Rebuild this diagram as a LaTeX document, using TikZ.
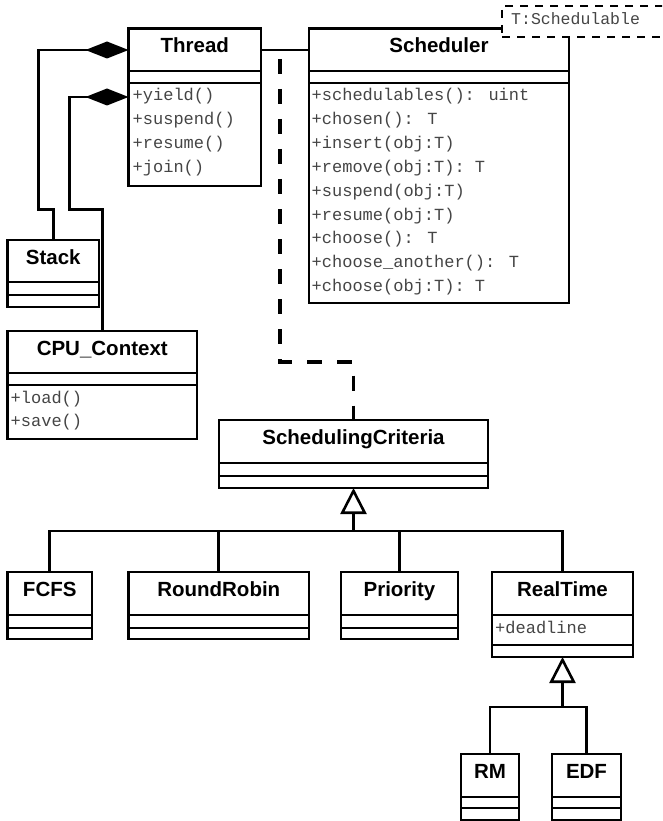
\documentclass[tikz,border=0pt]{standalone}
\usepackage{fontspec}
\setmainfont{Liberation Sans}
\newfontfamily\monof{Liberation Mono}
\usetikzlibrary{arrows.meta}
\definecolor{methgray}{HTML}{454545}
\tikzset{
  clsbox/.style={draw, line width=2.7pt, inner sep=0pt, outer sep=0pt, fill=white},
  sepline/.style={line width=2.7pt},
  clstitle/.style={font=\fontsize{20.5}{21}\selectfont\bfseries, inner sep=0pt, anchor=base},
  meth/.style={font=\monof\fontsize{17}{18}\selectfont, text=methgray, inner sep=0pt, anchor=base west},
  conn/.style={line width=2.6pt},
  dep/.style={line width=3.2pt, dash pattern=on 15pt off 15pt},
  comp/.style={-{Diamond[length=43pt,width=17pt]}},
  gen/.style={-{Triangle[fill=white,length=26pt,width=26pt]}},
  tpbox/.style={draw, line width=2.6pt, dash pattern=on 8pt off 7pt, fill=white, inner sep=0pt, outer sep=0pt}
}
% name, x1, x2, top, line1, line2, bottom, title
\newcommand\umlclass[8]{%
  \node[clsbox, anchor=north west, minimum width={(#3-#2)*1pt}, minimum height={(#7-#4)*1pt}] (#1) at (#2,#4) {};
  \draw[sepline] (#1.west |- {0,#5}) -- (#1.east |- {0,#5});
  \draw[sepline] (#1.west |- {0,#6}) -- (#1.east |- {0,#6});
  \node[clstitle] (#1-t) at ({(#2+#3)/2},{#4+24.5}) {#8};
}
% prefix, x, first baseline, list
\newcommand\umlmethods[4]{%
  \foreach \mt [count=\mi] in {#4} {
    \node[meth] (#1-\mi) at ({#2},{#3+(\mi-1)*23.8}) {\mt};
  }
}
\begin{document}
\begin{tikzpicture}[x=1pt,y=-1pt]
\useasboundingbox (0,0) rectangle (662,821);
\clip (0,0) rectangle (662,821);

% classes
\umlclass{thread}{128.5}{261}{28.5}{71}{83}{186}{Thread}
\umlmethods{thm}{132.5}{101}{+yield(),+suspend(),+resume(),+join()}

\umlclass{sched}{309}{569}{28.5}{71}{83}{303}{Scheduler}
\umlmethods{scm}{311.5}{101}{+schedulables(): uint,+chosen(): T,+insert(obj:T),+remove(obj:T): T,+suspend(obj:T),+resume(obj:T),+choose(): T,+choose\_another(): T,+choose(obj:T): T}

\umlclass{stack}{7.5}{99}{240}{282}{295}{307}{Stack}

\umlclass{cpu}{7.5}{197}{331}{373}{385}{439}{CPU\_Context}
\umlmethods{cpm}{10.5}{403}{+load(),+save()}

\umlclass{crit}{219}{488}{420}{463}{476}{488}{SchedulingCriteria}

\umlclass{fcfs}{7.5}{92}{572}{615}{628}{639}{FCFS}
\umlclass{rr}{128.5}{309}{572}{615}{628}{639}{RoundRobin}
\umlclass{prio}{341}{458}{572}{615}{628}{639}{Priority}
\umlclass{real}{492}{633}{572}{615}{645}{657}{RealTime}
\umlmethods{rtm}{495}{633}{+deadline}

\umlclass{rm}{461}{519}{754}{797}{808}{820}{RM}
\umlclass{edf}{552}{621}{754}{797}{808}{820}{EDF}

% template parameter box
\node[tpbox, anchor=north west, minimum width=200pt, minimum height=31pt] (tp) at (502,6) {};
\node[meth, font=\monof\fontsize{16.5}{18}\selectfont] (tp-t) at (511,24.5) {T:Schedulable};

% association Thread -- Scheduler
\draw[conn] ([yshift=-21.5pt]thread.north east) -- ([yshift=-21.5pt]sched.north west);

% compositions
\draw[conn, comp] (stack.north) -- ++(0,-30.5) -| (38.5,50) -- ([yshift=-21.5pt]thread.north west);
\draw[conn, comp] (cpu.north) -- ++(0,-121.5) -| (69.5,97) -- ([yshift=-68.5pt]thread.north west);

% dependency Scheduler -> SchedulingCriteria
\coordinate (dstart) at (280,59);
\draw[dep] (dstart) -- ++(0,303) -| (crit.north);

% generalization to SchedulingCriteria
\coordinate (bar1) at ([yshift=41pt]fcfs.north);
\draw[conn] (fcfs.north) -- (bar1) -| (real.north);
\draw[conn] (rr.north) -- (rr.north |- bar1);
\draw[conn] (prio.north) -- (prio.north |- bar1);
\draw[conn, gen] (crit.south |- bar1) -- (crit.south);

% generalization to RealTime
\coordinate (bar2) at ([yshift=47pt]rm.north);
\draw[conn] (rm.north) -- (bar2) -| (edf.north);
\draw[conn, gen] (real.south |- bar2) -- (real.south);
\end{tikzpicture}
\end{document}
